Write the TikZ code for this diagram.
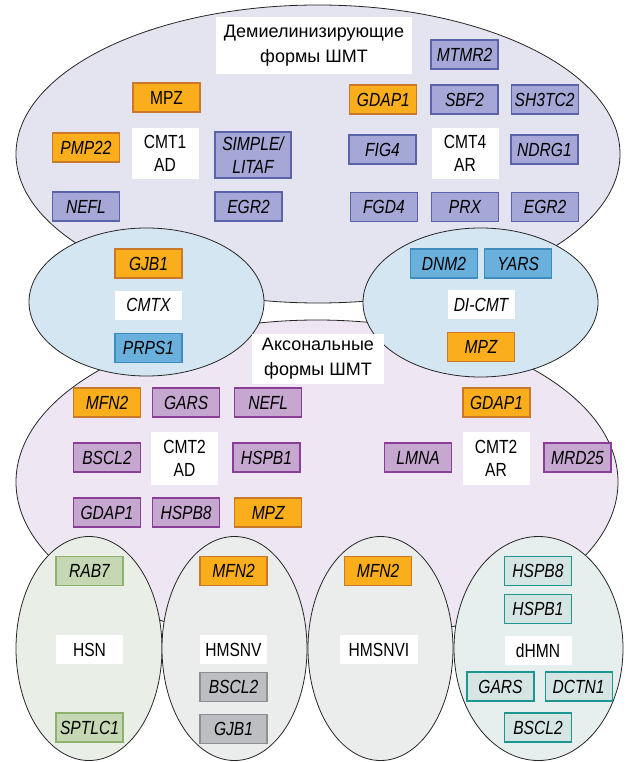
\documentclass[tikz,border=0pt]{standalone}
\usepackage{fontspec}
\setmainfont{Liberation Sans}
\newfontfamily\condfont{Liberation Sans}[FakeStretch=0.82]
\usetikzlibrary{positioning, shapes.geometric}

\definecolor{demback}{HTML}{E4E4F0}
\definecolor{demfill}{HTML}{A5A8D6}
\definecolor{demline}{HTML}{5A62AA}
\definecolor{orfill}{HTML}{FBAE1C}
\definecolor{orline}{HTML}{C9782C}
\definecolor{midback}{HTML}{D4E6F2}
\definecolor{midfill}{HTML}{6AB0DC}
\definecolor{midline}{HTML}{3E8BBE}
\definecolor{axback}{HTML}{EEE6F2}
\definecolor{axfill}{HTML}{C6A7CF}
\definecolor{axline}{HTML}{8B3E98}
\definecolor{hsnback}{HTML}{E9EFE6}
\definecolor{hsnfill}{HTML}{C5D7B3}
\definecolor{hsnline}{HTML}{8DB26E}
\definecolor{greyback}{HTML}{EBEDEC}
\definecolor{greyfill}{HTML}{BDBEC2}
\definecolor{greyline}{HTML}{8E8F93}
\definecolor{tealback}{HTML}{E6EFEE}
\definecolor{tealfill}{HTML}{D4E5E4}
\definecolor{tealline}{HTML}{1E9690}

\begin{document}
\begin{tikzpicture}[
  x=1pt, y=-1pt,
  node distance=13pt,
  group/.style={ellipse, draw=black!85, line width=0.8pt, inner sep=0pt},
  gene/.style={draw, line width=1.1pt, minimum width=67pt, minimum height=29pt, inner sep=0pt,
    align=center, font=\condfont\fontsize{19}{23}\selectfont\itshape},
  dem/.style={gene, fill=demfill, draw=demline},
  mut/.style={gene, fill=orfill, draw=orline},
  mid/.style={gene, fill=midfill, draw=midline},
  ax/.style={gene, fill=axfill, draw=axline},
  hsn/.style={gene, fill=hsnfill, draw=hsnline},
  grey/.style={gene, fill=greyfill, draw=greyline},
  teal/.style={gene, fill=tealfill, draw=tealline},
  tag/.style={fill=white, minimum width=67pt, minimum height=29pt, inner sep=0pt, align=center,
    font=\condfont\fontsize{19}{23}\selectfont},
  heading/.style={fill=white, inner sep=0pt, align=center, font=\fontsize{18}{25}\selectfont}
]
\useasboundingbox (0,0) rectangle (629,762);

% groups
\node[group, fill=demback, minimum width=604pt, minimum height=298pt] (demyel) at (318,154) {};
\node[group, fill=axback, minimum width=602pt, minimum height=324pt] (axon) at (317,482) {};
\node[group, fill=midback, minimum width=235pt, minimum height=148pt] (cmtxgrp) at (146.5,302) {};
\node[group, fill=midback, minimum width=235pt, minimum height=149pt] (dicmtgrp) at (480.5,302.5) {};
\node[group, fill=hsnback, minimum width=146pt, minimum height=224pt] (hsngrp) at (89,648.5) {};
\node[group, fill=greyback, minimum width=145pt, minimum height=224pt] (hmsnvgrp) at (234.5,648.5) {};
\node[group, fill=greyback, minimum width=145pt, minimum height=224pt] (hmsnvigrp) at (380.5,648.5) {};
\node[group, fill=tealback, minimum width=169pt, minimum height=224pt] (dhmngrp) at (538.5,648.5) {};

% demyelinating forms
\node[heading, minimum width=196pt, minimum height=57pt] (demtitle) at (314,45.5) {Демиелинизирующие\\формы ШМТ};
\node[mut, font=\condfont\fontsize{19}{23}\selectfont] (mpz1) at (166.5,97.5) {MPZ};
\node[tag, minimum height=51pt] (cmt1) at (165,153.5) {CMT1\\AD};
\node[mut] (pmp22) at (86,147.5) {PMP22};
\node[dem, minimum width=76pt, minimum height=46pt] (litaf) at (253,155) {SIMPLE/\\LITAF};
\node[dem] (nefl1) at (86,206.5) {NEFL};
\node[dem] (egr2a) at (248.5,206.5) {EGR2};
\node[dem] (mtmr2) at (464.5,54.5) {MTMR2};
\node[dem] (sbf2) at (464.5,99.5) {SBF2};
\node[mut, left=of sbf2] (gdap1a) {GDAP1};
\node[dem, right=12pt of sbf2] (sh3tc2) {SH3TC2};
\node[tag, minimum height=51pt] (cmt4) at (465,153.5) {CMT4\\AR};
\node[dem] (fig4) at (382.5,149.5) {FIG4};
\node[dem] (ndrg1) at (544.5,149.5) {NDRG1};
\node[dem] (prx) at (465,207) {PRX};
\node[dem, left=of prx] (fgd4) {FGD4};
\node[dem, right=12pt of prx] (egr2b) {EGR2};

% intermediate forms
\node[mut] (gjb1a) at (148.5,263.5) {GJB1};
\node[tag, below=12pt of gjb1a, font=\condfont\fontsize{19}{23}\selectfont\itshape] (cmtx) {CMTX};
\node[mid, below=of cmtx] (prps1) {PRPS1};
\node[mid] (dnm2) at (444,263.5) {DNM2};
\node[mid, right=6pt of dnm2] (yars) {YARS};
\node[tag, font=\condfont\fontsize{19}{23}\selectfont\itshape] (dicmt) at (481,304.5) {DI-CMT};
\node[mut, below=of dicmt] (mpz2) {MPZ};

% axonal forms
\node[heading, minimum width=132pt, minimum height=50pt] (axtitle) at (318,359) {Аксональные\\формы ШМТ};
\node[mut] (mfn2a) at (107,402.5) {MFN2};
\node[ax, right=11pt of mfn2a] (gars1) {GARS};
\node[ax, right=14pt of gars1] (nefl2) {NEFL};
\node[ax] (bscl2a) at (107,457.5) {BSCL2};
\node[tag, minimum height=53pt] (cmt2ad) at (184.5,458.5) {CMT2\\AD};
\node[ax] (hspb1a) at (266.5,457.5) {HSPB1};
\node[ax] (gdap1b) at (107,512.5) {GDAP1};
\node[ax, right=11pt of gdap1b] (hspb8a) {HSPB8};
\node[mut, right=14pt of hspb8a] (mpz3) {MPZ};
\node[mut] (gdap1c) at (496.5,402.5) {GDAP1};
\node[tag, minimum height=53pt] (cmt2ar) at (496,458.5) {CMT2\\AR};
\node[ax] (lmna) at (418,457.5) {LMNA};
\node[ax] (mrd25) at (577.5,457.5) {MRD25};

% HSN
\node[hsn] (rab7) at (89.5,571) {RAB7};
\node[tag] (hsn) at (89.5,649.5) {HSN};
\node[hsn] (sptlc1) at (89.5,727.5) {SPTLC1};

% HMSN V
\node[mut] (mfn2b) at (233.5,571) {MFN2};
\node[tag] (hmsnv) at (233.5,649.5) {HMSNV};
\node[grey, below=8pt of hmsnv] (bscl2b) {BSCL2};
\node[grey, below=12pt of bscl2b] (gjb1b) {GJB1};

% HMSN VI
\node[mut] (mfn2c) at (378,571) {MFN2};
\node[tag, minimum width=78pt] (hmsnvi) at (379,649.5) {HMSNVI};

% dHMN
\node[teal] (hspb8b) at (538,571) {HSPB8};
\node[teal, below=8pt of hspb8b] (hspb1b) {HSPB1};
\node[tag, below=12pt of hspb1b] (dhmn) {dHMN};
\node[teal] (gars2) at (500.5,686.5) {GARS};
\node[teal, right=10pt of gars2] (dctn1) {DCTN1};
\node[teal] (bscl2c) at (538,727.5) {BSCL2};
\end{tikzpicture}
\end{document}
